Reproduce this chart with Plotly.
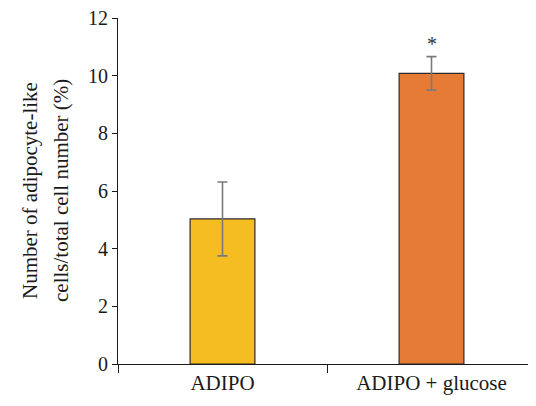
import plotly.graph_objects as go

categories = ["ADIPO", "ADIPO + glucose"]
values = [5.03, 10.08]
errors = [1.28, 0.58]
colors = ["#F5BD21", "#E57B35"]
y_ticks = [0, 2, 4, 6, 8, 10, 12]
signif = ["", "*"]
y_title_lines = ["Number of adipocyte-like", "cells/total cell number (%)"]

font_family = "Liberation Serif"

fig = go.Figure()
fig.add_trace(go.Bar(
    x=categories, y=values,
    marker=dict(color=colors, line=dict(color="#2b2b2b", width=1.2)),
    width=0.31,
    error_y=dict(type="data", array=errors, visible=True, color="#7a7a7a", thickness=1.6, width=5),
    showlegend=False,
))
for c, v, e, s in zip(categories, values, errors, signif):
    if s:
        fig.add_annotation(x=c, y=v + e, text=s, showarrow=False, yshift=13,
                           font=dict(family=font_family, size=20, color="#333333"))

for line, shift in zip(y_title_lines, [-88, -57]):
    fig.add_annotation(xref="paper", yref="paper", x=0, y=0.5, xshift=shift,
                       text=line, textangle=-90, showarrow=False,
                       xanchor="center", yanchor="middle",
                       font=dict(family=font_family, size=21, color="#1a1a1a"))

fig.update_layout(
    width=536, height=406,
    margin=dict(l=110, r=8, t=10, b=50),
    plot_bgcolor="white", paper_bgcolor="white",
    font=dict(family=font_family, size=20, color="#1a1a1a"),
)
fig.update_xaxes(
    showline=True, linecolor="#1a1a1a", linewidth=1.2,
    ticks="outside", tickson="boundaries", ticklen=8, tickcolor="#1a1a1a", tickwidth=1.2,
    showgrid=False, tickfont=dict(size=21), automargin=False,
)
fig.update_yaxes(
    range=[0, 12], tickvals=y_ticks,
    showline=True, linecolor="#1a1a1a", linewidth=1.2,
    ticks="outside", ticklen=5, tickcolor="#1a1a1a", tickwidth=1.2,
    showgrid=False, zeroline=False, tickfont=dict(size=20), automargin=False,
    ticklabeloverflow="allow",
)
fig.write_html("out.html")
